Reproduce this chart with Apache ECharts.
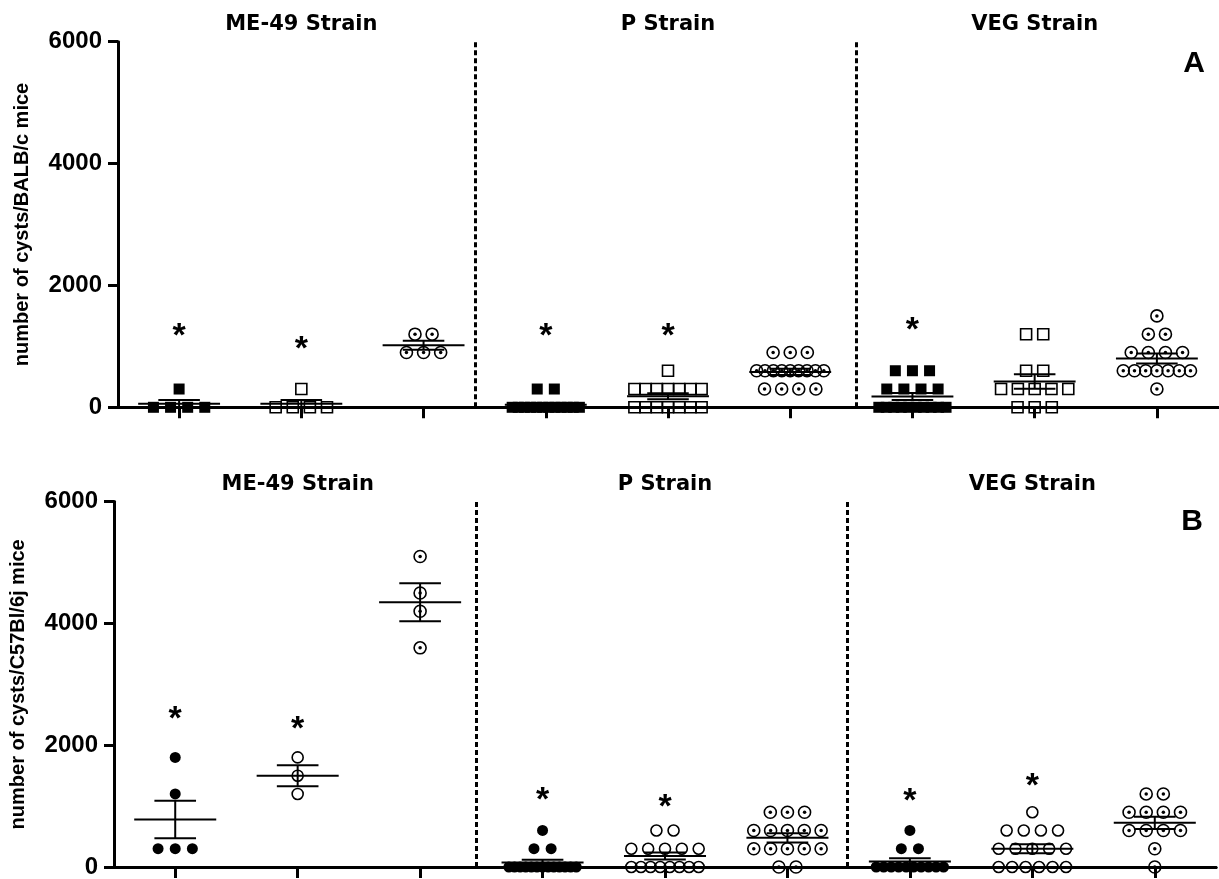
<!DOCTYPE html>
<html lang="en">
<head>
<meta charset="UTF-8" />
<title>Cysts per mouse</title>
<script src="https://cdn.jsdelivr.net/npm/echarts@6.0.0/dist/echarts.min.js"></script>
<style>
  html, body { margin: 0; padding: 0; background: #fff; }
</style>
</head>
<body>
<div id="main" style="width: 1219px; height: 879px;"></div>
<script>
// strain headers and y ticks
const strains = ['ME-49 Strain', 'P Strain', 'VEG Strain'];
const yTicks = [0, 2000, 4000, 6000];

// panel A: BALB/c mice, three groups per strain (filled / open / dotted)
const balbME49 = [
  [300, 0, 0, 0, 0],
  [300, 0, 0, 0, 0],
  [1200, 1200, 900, 900, 900]
];
const balbP = [
  [300, 300, 0, 0, 0, 0, 0, 0, 0, 0, 0, 0, 0, 0],
  [600, 300, 300, 300, 300, 300, 300, 300, 0, 0, 0, 0, 0, 0, 0],
  [900, 900, 900, 600, 600, 600, 600, 600, 600, 600, 600, 600, 300, 300, 300, 300]
];
const balbVEG = [
  [600, 600, 600, 300, 300, 300, 300, 0, 0, 0, 0, 0, 0, 0, 0, 0, 0],
  [1200, 1200, 600, 600, 300, 300, 300, 300, 300, 0, 0, 0],
  [1500, 1200, 1200, 900, 900, 900, 900, 600, 600, 600, 600, 600, 600, 600, 300]
];
const balbStars = [1300, 1100, null, 1300, 1300, null, 1400, null, null];

// panel B: C57Bl/6j mice
const c57ME49 = [
  [1800, 1200, 300, 300, 300],
  [1800, 1500, 1200],
  [5100, 4500, 4200, 3600]
];
const c57P = [
  [600, 300, 300, 0, 0, 0, 0, 0, 0, 0, 0, 0, 0, 0, 0, 0],
  [600, 600, 300, 300, 300, 300, 300, 0, 0, 0, 0, 0, 0, 0, 0],
  [900, 900, 900, 600, 600, 600, 600, 600, 300, 300, 300, 300, 300, 0, 0]
];
const c57VEG = [
  [600, 300, 300, 0, 0, 0, 0, 0, 0, 0, 0, 0, 0],
  [900, 600, 600, 600, 600, 300, 300, 300, 300, 300, 0, 0, 0, 0, 0, 0],
  [1200, 1200, 900, 900, 900, 900, 600, 600, 600, 600, 300, 0]
];
const c57Stars = [2570, 2410, null, 1240, 1120, null, 1220, 1470, null];

const FONT = 'Liberation Sans';
const STEP = 0.14, SPAN = 0.55;

// spread points that share a value sideways, like a column scatter
function spread(values, g) {
  const counts = {}, seen = {};
  values.forEach(v => counts[v] = (counts[v] || 0) + 1);
  return values.map(v => {
    const n = counts[v];
    const k = seen[v] = (seen[v] || 0) + 1;
    const step = n > 1 ? Math.min(STEP, SPAN / (n - 1)) : 0;
    return [g + 0.5 + (k - 1 - (n - 1) / 2) * step, v];
  });
}

function stats(vals) {
  const n = vals.length;
  const m = vals.reduce((a, b) => a + b, 0) / n;
  const sd = Math.sqrt(vals.reduce((a, b) => a + (b - m) * (b - m), 0) / (n - 1));
  return [m, sd / Math.sqrt(n)];
}

function meanSem(params, api) {
  const c = api.value(0) + 0.5, m = api.value(1), s = api.value(2);
  const seg = (a, b) => ({
    type: 'line',
    shape: { x1: a[0], y1: a[1], x2: b[0], y2: b[1] },
    style: { stroke: '#000', lineWidth: 2 }
  });
  return {
    type: 'group',
    children: [
      seg(api.coord([c - 0.335, m]), api.coord([c + 0.335, m])),
      seg(api.coord([c - 0.17, m + s]), api.coord([c + 0.17, m + s])),
      seg(api.coord([c - 0.17, m - s]), api.coord([c + 0.17, m - s])),
      seg(api.coord([c, m + s]), api.coord([c, m - s]))
    ]
  };
}

function panelSeries(p, groups, stars, shape, dividers) {
  const out = [];
  groups.forEach((vals, g) => {
    const kind = g % 3;
    const pts = spread(vals, g);
    out.push({
      type: 'scatter', xAxisIndex: p * 2, yAxisIndex: p * 2, data: pts,
      symbol: kind === 2 ? 'circle' : shape,
      symbolSize: kind === 2 ? 12 : 11,
      itemStyle: kind === 0 ? { color: '#000', opacity: 1 }
        : { color: 'rgba(0,0,0,0)', borderColor: '#000', borderWidth: 1.6, opacity: 1 },
      z: 3
    });
    if (kind === 2) {
      out.push({
        type: 'scatter', xAxisIndex: p * 2, yAxisIndex: p * 2, data: pts,
        symbol: 'circle', symbolSize: 3.5, itemStyle: { color: '#000', opacity: 1 }, z: 4
      });
    }
  });
  out.push({
    type: 'custom', xAxisIndex: p * 2, yAxisIndex: p * 2, z: 5,
    data: groups.map((vals, g) => [g].concat(stats(vals))),
    renderItem: meanSem
  });
  out.push({
    type: 'scatter', xAxisIndex: p * 2, yAxisIndex: p * 2, z: 6,
    data: stars.map((v, g) => v == null ? null : [g + 0.5, v]).filter(Boolean),
    symbolSize: 1, itemStyle: { color: 'rgba(0,0,0,0)', opacity: 1 },
    label: {
      show: true, position: 'inside', formatter: '*', color: '#000',
      fontFamily: FONT, fontWeight: 'bold', fontSize: 34, offset: [0, 9]
    },
    markLine: {
      silent: true, symbol: ['none', 'none'], label: { show: false },
      lineStyle: { color: '#000', width: 3, type: [5, 3], opacity: 1 },
      data: dividers.map(x => ({ xAxis: x }))
    }
  });
  return out;
}

function xAxes(gi) {
  return [{
    type: 'value', gridIndex: gi, min: 0, max: 9, position: 'bottom',
    axisLine: { lineStyle: { color: '#000', width: 3 } },
    axisTick: { show: true, length: 11, lineStyle: { color: '#000', width: 3 },
      customValues: [0.5, 1.5, 2.5, 3.5, 4.5, 5.5, 6.5, 7.5, 8.5] },
    axisLabel: { show: false }, splitLine: { show: false }
  }, {
    type: 'value', gridIndex: gi, min: 0, max: 9, position: 'top',
    axisLine: { lineStyle: { color: '#000', width: 3 } },
    axisTick: { show: false },
    axisLabel: {
      show: true, customValues: [1.5, 4.5, 7.5], margin: 7,
      formatter: v => strains[Math.round((v - 1.5) / 3)],
      color: '#000', fontFamily: 'DejaVu Sans', fontWeight: 'bold', fontSize: 21
    },
    splitLine: { show: false }
  }];
}

function yAxes(gi, name, withRight) {
  return [{
    type: 'value', gridIndex: gi, min: yTicks[0], max: yTicks[yTicks.length - 1], interval: 2000,
    name: name, nameLocation: 'middle', nameRotate: 90, nameGap: 86,
    nameTextStyle: { color: '#000', fontFamily: FONT, fontWeight: 'bold', fontSize: 20 },
    axisLine: { show: true, lineStyle: { color: '#000', width: 3 } },
    axisTick: { show: true, length: 10, lineStyle: { color: '#000', width: 3 } },
    axisLabel: {
      color: '#000', fontFamily: FONT, fontWeight: 'bold', fontSize: 24, margin: 16,
      formatter: v => String(v)
    },
    splitLine: { show: false }
  }, {
    type: 'value', gridIndex: gi, position: 'right', min: 0, max: 6000,
    axisLine: { show: withRight, lineStyle: { color: '#000', width: 3 } },
    axisTick: { show: false }, axisLabel: { show: false }, splitLine: { show: false }
  }];
}

const chart = echarts.init(document.getElementById('main'));
chart.setOption({
  backgroundColor: '#fff',
  animation: false,
  grid: [
    { left: 118, top: 41.7, width: 1100, height: 365.6 },
    { left: 114, top: 501.7, width: 1102, height: 366.3 }
  ],
  xAxis: xAxes(0).concat(xAxes(1)),
  yAxis: yAxes(0, 'number of cysts/BALB/c mice', false)
    .concat(yAxes(1, 'number of cysts/C57Bl/6j mice', true)),
  graphic: [
    { type: 'text', x: 1194, y: 64, style: { text: 'A', font: 'bold 30px ' + FONT, fill: '#000', align: 'center', verticalAlign: 'middle' } },
    { type: 'text', x: 1192, y: 522, style: { text: 'B', font: 'bold 30px ' + FONT, fill: '#000', align: 'center', verticalAlign: 'middle' } }
  ],
  series: []
    .concat(panelSeries(0, balbME49.concat(balbP, balbVEG), balbStars, 'rect', [2.92, 6.04]))
    .concat(panelSeries(1, c57ME49.concat(c57P, c57VEG), c57Stars, 'circle', [2.96, 5.99]))
});
</script>
</body>
</html>
